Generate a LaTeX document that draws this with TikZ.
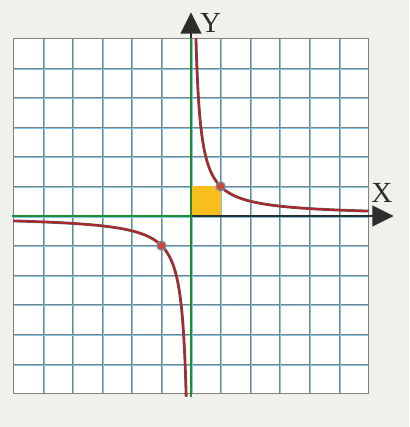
\documentclass[tikz,border=0pt]{standalone}
\usepackage{fontspec}
\setmainfont{Liberation Serif}
\usetikzlibrary{arrows.meta}
\definecolor{bg}{RGB}{241,241,236}
\definecolor{gridgray}{RGB}{130,130,130}
\definecolor{gridblue}{RGB}{125,200,232}
\definecolor{axisgreen}{RGB}{35,140,50}
\definecolor{axisdark}{RGB}{45,45,45}
\definecolor{curvered}{RGB}{185,35,40}
\definecolor{curveedge}{RGB}{95,80,80}
\definecolor{sqyellow}{RGB}{248,190,30}
\definecolor{dotred}{RGB}{205,70,60}
\definecolor{dotring}{RGB}{125,135,155}
\tikzset{
  gridb/.style={gridblue, line width=0.8pt},
  gridg/.style={gridgray, line width=0.7pt},
  greenaxis/.style={axisgreen, line width=2pt},
  darkaxis/.style={axisdark, line width=1.8pt, -{Triangle[length=0.72cm,width=0.7cm]}},
  curveback/.style={curveedge, line width=2.7pt},
  curvefront/.style={curvered, line width=1.6pt},
  pointdot/.style={fill=dotred, draw=dotring, line width=1.3pt},
  axislabel/.style={inner sep=0pt, font=\fontsize{28}{28}\selectfont, text=axisdark}
}
\begin{document}
\begin{tikzpicture}
\useasboundingbox (-6.453,-7.128) rectangle (7.365,7.297);
\fill[bg] (-6.453,-7.128) rectangle (7.365,7.297);
\fill[white] (-6,-6) rectangle (6,6);
% grid
\foreach \i in {-5,...,5} {
  \draw[gridb] ([xshift=1pt]\i,-6) -- ([xshift=1pt]\i,6);
  \draw[gridg] (\i,-6) -- (\i,6);
  \draw[gridb] ([yshift=-1pt]-6,\i) -- ([yshift=-1pt]6,\i);
  \draw[gridg] (-6,\i) -- (6,\i);
}
\draw[gridgray, line width=0.8pt] (-6,-6) rectangle (6,6);
% unit square
\fill[sqyellow] (0.03,0.03) rectangle (1,1);
% axes
\coordinate (xl) at (-6.05,0);
\coordinate (o) at (0,0);
\coordinate (xt) at (6.85,0);
\coordinate (yb) at (0,-6.12);
\coordinate (ytop) at (0,6);
\coordinate (yt) at (0,6.88);
\draw[greenaxis] (xl) -- (o);
\draw[darkaxis] (o) -- (xt);
\draw[greenaxis] (yb) -- (ytop);
\draw[darkaxis] (ytop) -- (yt);
% hyperbola y = 1/x
\draw[curveback] plot[domain=-1.7918:1.7918, variable=\t, samples=120] ({exp(\t)},{exp(-\t)});
\draw[curvefront] plot[domain=-1.7918:1.7918, variable=\t, samples=120] ({exp(\t)},{exp(-\t)});
\draw[curveback] plot[domain=-1.7918:1.81, variable=\t, samples=120] ({-exp(-\t)},{-exp(\t)});
\draw[curvefront] plot[domain=-1.7918:1.81, variable=\t, samples=120] ({-exp(-\t)},{-exp(\t)});
% points
\filldraw[pointdot] (1,1) circle (0.15);
\filldraw[pointdot] (-1,-1) circle (0.15);
% labels
\node[axislabel] (ylabel) at (0.66,6.52) {Y};
\node[axislabel] (xlabel) at (6.45,0.78) {X};
\end{tikzpicture}
\end{document}
